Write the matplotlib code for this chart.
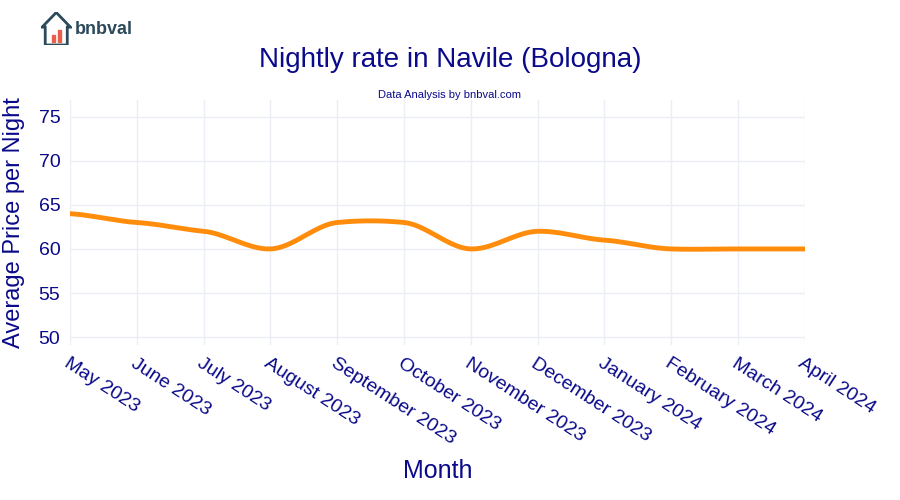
import numpy as np
import matplotlib.pyplot as plt
from matplotlib.patches import Rectangle, Polygon

plt.rcParams["font.family"] = "Liberation Sans"

months = ["May 2023", "June 2023", "July 2023", "August 2023", "September 2023",
          "October 2023", "November 2023", "December 2023", "January 2024",
          "February 2024", "March 2024", "April 2024"]
prices = [64, 63, 62, 60, 63, 63, 60, 62, 61, 60, 60, 60]
yticks = [50, 55, 60, 65, 70, 75]

NAVY = "#0a0a8a"


def spline(x, y, n=20, t=0.5):
    # cardinal spline through the points, just for drawing a smooth line
    x = np.asarray(x, float)
    y = np.asarray(y, float)
    xs, ys = [], []
    for i in range(len(x) - 1):
        m0 = t * (y[i + 1] - y[i - 1]) / 2 if i > 0 else t * (y[i + 1] - y[i])
        m1 = t * (y[i + 2] - y[i]) / 2 if i < len(x) - 2 else t * (y[i + 1] - y[i])
        s = np.linspace(0, 1, n, endpoint=False)
        h00 = 2 * s**3 - 3 * s**2 + 1
        h10 = s**3 - 2 * s**2 + s
        h01 = -2 * s**3 + 3 * s**2
        h11 = s**3 - s**2
        xs.append(x[i] + s * (x[i + 1] - x[i]))
        ys.append(h00 * y[i] + h10 * m0 + h01 * y[i + 1] + h11 * m1)
    xs.append([x[-1]])
    ys.append([y[-1]])
    return np.concatenate(xs), np.concatenate(ys)


fig = plt.figure(figsize=(9, 5), dpi=100)
ax = fig.add_axes([0.078, 0.31, 0.816, 0.49])

xpos = np.arange(len(months))
sx, sy = spline(xpos, prices)
ax.plot(sx, sy, color="#ff8c0a", linewidth=3.5, solid_capstyle="round")

ax.set_xlim(0, len(months) - 1)
ax.set_ylim(49.1, 76.9)
ax.set_yticks(yticks)
ax.set_xticks(xpos)
ax.set_xticklabels(months, rotation=-33, ha="left", va="top", rotation_mode="anchor")
ax.tick_params(axis="both", length=0, labelsize=14, colors=NAVY, pad=7)
ax.grid(True, color="#eceef5", linewidth=1)
for sp in ax.spines.values():
    sp.set_visible(False)

ax.set_ylabel("Average Price per Night", fontsize=17, color=NAVY, labelpad=10)
ax.set_xlabel("Month", fontsize=18, color=NAVY, labelpad=8)

fig.text(0.5, 0.88, "Nightly rate in Navile (Bologna)", ha="center", va="center",
         fontsize=20, color=NAVY)
fig.text(0.5, 0.81, "Data Analysis by bnbval.com", ha="center", va="center",
         fontsize=8, color=NAVY)

# logo
lax = fig.add_axes([0.045, 0.91, 0.035, 0.065])
lax.set_xlim(0, 1)
lax.set_ylim(0, 1)
lax.axis("off")
lax.add_patch(Polygon([[0.05, 0.55], [0.5, 1.0], [0.95, 0.55], [0.85, 0.55], [0.85, 0.0],
                       [0.15, 0.0], [0.15, 0.55]], closed=True, fill=False,
                      edgecolor="#2d4a5a", linewidth=2))
lax.add_patch(Rectangle((0.35, 0.1), 0.1, 0.2, color="#e8604c"))
lax.add_patch(Rectangle((0.55, 0.1), 0.1, 0.35, color="#e8604c"))
fig.text(0.083, 0.94, "bnbval", fontsize=13, fontweight="bold", color="#2d4a5a",
         va="center")

fig.savefig("out.png", dpi=100)
